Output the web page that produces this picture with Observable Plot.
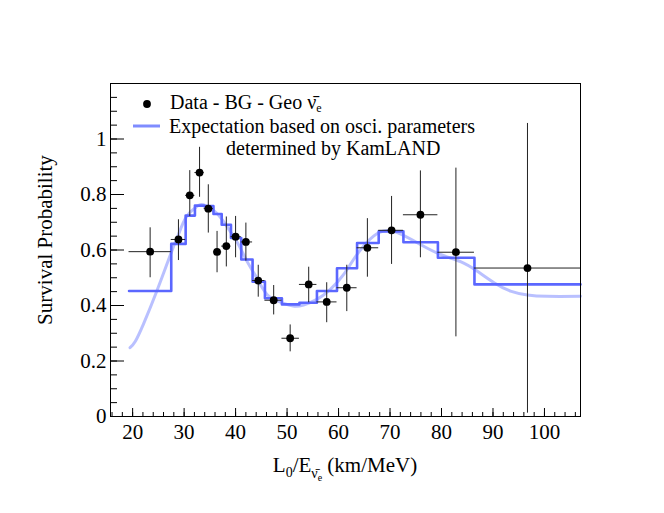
<!DOCTYPE html>
<html><head><meta charset="utf-8">
<script src="https://cdn.jsdelivr.net/npm/d3@7"></script>
<script src="https://cdn.jsdelivr.net/npm/@observablehq/plot@0.6"></script>
<style>body{margin:0;background:#fff} svg{display:block}</style>
</head><body><div id="chart"></div>
<script>
// bin edges in L0/E (km/MeV)
const binEdges = [19.3, 27.5, 30.3, 32.1, 33.9, 35.7, 37.3, 39.1, 41.1, 43.3, 45.7, 49.0, 52.4, 55.8, 59.7, 63.6, 67.8, 72.6, 79.3, 86.4, 107];
// data points (Data - BG - Geo)
const dataX    = [23.4, 28.9, 31.1, 33.0, 34.7, 36.4, 38.2, 40.0, 42.0, 44.4, 47.4, 50.6, 54.2, 57.7, 61.6, 65.6, 70.3, 75.9, 82.8, 96.7];
const dataY    = [0.594, 0.638, 0.797, 0.879, 0.749, 0.593, 0.614, 0.648, 0.629, 0.490, 0.419, 0.282, 0.476, 0.413, 0.464, 0.608, 0.671, 0.727, 0.592, 0.535];
const dataYLow = [0.500, 0.562, 0.721, 0.790, 0.661, 0.518, 0.539, 0.572, 0.560, 0.430, 0.366, 0.233, 0.410, 0.338, 0.378, 0.502, 0.548, 0.572, 0.287, 0.012];
const dataYHigh= [0.680, 0.709, 0.886, 0.970, 0.835, 0.667, 0.719, 0.721, 0.697, 0.545, 0.472, 0.330, 0.538, 0.482, 0.545, 0.713, 0.793, 0.885, 0.895, 1.056];
// expectation histogram (one value per bin)
const expected = [0.452, 0.622, 0.724, 0.760, 0.758, 0.730, 0.691, 0.643, 0.566, 0.486, 0.426, 0.404, 0.410, 0.452, 0.534, 0.625, 0.667, 0.628, 0.572, 0.476];
// smooth expectation curve
const curveX = [19.5, 20.5, 22.1, 24.7, 27.6, 28.9, 30.5, 32.5, 33.7, 36.3, 38.3, 40.2, 42.2, 44.1, 46.1, 48.7, 51.2, 53.2, 55.8, 58.4, 61.0, 63.6, 66.8, 69.4, 72.0, 75.9, 79.8, 83.7, 86.9, 90.2, 93.4, 96.7, 100.5, 107];
const curveY = [0.248, 0.270, 0.333, 0.452, 0.596, 0.656, 0.721, 0.757, 0.763, 0.733, 0.685, 0.632, 0.560, 0.500, 0.440, 0.412, 0.398, 0.402, 0.422, 0.458, 0.512, 0.584, 0.650, 0.670, 0.658, 0.620, 0.584, 0.558, 0.524, 0.482, 0.452, 0.438, 0.433, 0.433];
const yTicks = [0, 0.2, 0.4, 0.6, 0.8, 1];
const xTicks = [20, 30, 40, 50, 60, 70, 80, 90, 100];

const points = dataX.map((x, i) => ({x, y: dataY[i], lo: dataYLow[i], hi: dataYHigh[i], x1: binEdges[i], x2: binEdges[i + 1]}));
const steps = binEdges.map((e, i) => ({x: e, y: expected[Math.min(i, expected.length - 1)]}));
const curve = curveX.map((x, i) => ({x, y: curveY[i]}));
const yMinor = d3.range(0, 1.2001, 0.05).map(v => +v.toFixed(2));
const xMinor = d3.range(16, 107, 2);

const FONT = "'Liberation Serif', 'Times New Roman', serif";
const fmtY = d => String(+d.toFixed(1));

const plot = Plot.plot({
  width: 664, height: 513,
  marginLeft: 110, marginRight: 84, marginTop: 83, marginBottom: 97,
  style: {fontFamily: FONT, fontSize: "21px", background: "white", color: "black"},
  x: {domain: [15.7, 107]},
  y: {domain: [0, 1.2]},
  marks: [
    Plot.axisY({ticks: yMinor, tickSize: -7, tickFormat: () => "", label: null, stroke: "black"}),
    Plot.axisY({ticks: yTicks, tickSize: -14, tickFormat: () => "", label: null, stroke: "black"}),
    Plot.axisY({ticks: yTicks, tickSize: 0, tickPadding: 4, tickFormat: fmtY, label: null, fontSize: 21}),
    Plot.axisX({ticks: xMinor, tickSize: -4, tickFormat: () => "", label: null, stroke: "black"}),
    Plot.axisX({ticks: xTicks, tickSize: -8, tickFormat: () => "", label: null, stroke: "black"}),
    Plot.axisX({ticks: xTicks, tickSize: 0, tickPadding: 8, tickFormat: d => String(d), label: null, fontSize: 21}),
    Plot.line(curve, {x: "x", y: "y", curve: "natural", stroke: "#7f8cff", strokeOpacity: 0.55, strokeWidth: 3}),
    Plot.line(steps, {x: "x", y: "y", curve: "step-after", stroke: "#5b67ff", strokeWidth: 2.6}),
    Plot.ruleX(points, {x: "x", y1: "lo", y2: "hi", stroke: "#222", strokeWidth: 1}),
    Plot.ruleY(points, {y: "y", x1: "x1", x2: "x2", stroke: "#222", strokeWidth: 1}),
    Plot.dot(points, {x: "x", y: "y", r: 3.9, fill: "black", stroke: "none"}),
    Plot.frame({stroke: "black", strokeWidth: 1})
  ]
});

const svg = d3.select(plot);
// y label
svg.append("text")
  .attr("transform", "translate(47,240) rotate(-90)")
  .attr("text-anchor", "middle").attr("dominant-baseline", "middle")
  .style("font-family", FONT).style("font-size", "21px").attr("fill", "black")
  .text("Survival Probability");
// x label
const xl = svg.append("text")
  .attr("x", 345).attr("y", 472).attr("text-anchor", "middle")
  .style("font-family", FONT).style("font-size", "21px").attr("fill", "black");
xl.append("tspan").text("L");
xl.append("tspan").attr("dy", 5).style("font-size", "14px").text("0");
xl.append("tspan").attr("dy", -5).text("/E");
xl.append("tspan").attr("dy", 6).style("font-size", "14px").text("\u03BD\u0304");
xl.append("tspan").attr("dy", 3).style("font-size", "10px").text("e");
xl.append("tspan").attr("dy", -9).text(" (km/MeV)");

// legend
const lg = svg.append("g").style("font-family", FONT).style("font-size", "20px").attr("text-anchor", "start");
lg.append("circle").attr("cx", 147).attr("cy", 104).attr("r", 3.9).attr("fill", "black");
const t1 = lg.append("text").attr("x", 170).attr("y", 109).attr("fill", "black").attr("text-anchor", "start");
t1.append("tspan").text("Data - BG - Geo \u03BD\u0304");
t1.append("tspan").attr("dy", 3).style("font-size", "12px").text("e");
lg.append("line").attr("x1", 133).attr("x2", 160).attr("y1", 126).attr("y2", 126)
  .attr("stroke", "#7f8cff").attr("stroke-width", 3);
lg.append("text").attr("x", 169).attr("y", 133).attr("fill", "black").attr("text-anchor", "start").text("Expectation based on osci. parameters");
lg.append("text").attr("x", 226).attr("y", 155).attr("fill", "black").attr("text-anchor", "start").text("determined by KamLAND");

document.getElementById("chart").appendChild(plot);
</script>
</body></html>
